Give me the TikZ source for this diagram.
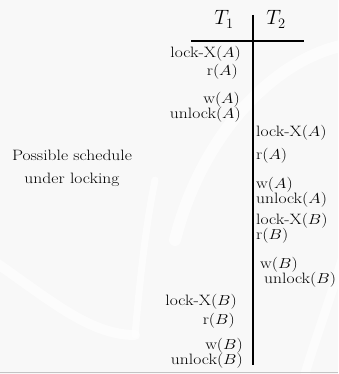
\documentclass[tikz,border=0pt]{standalone}
\usepackage{tikz}
\definecolor{paper}{HTML}{F8F8F8}
\definecolor{rule}{HTML}{C4C4C4}
\newcommand{\wide}[1]{\scalebox{1.17}[1]{#1}}
\tikzset{
  op/.style={inner sep=0pt, font=\fontsize{15}{18}\selectfont},
  tlabel/.style={inner sep=0pt, anchor=base, font=\fontsize{20}{22}\selectfont},
  axis/.style={line width=2pt},
  swoosh/.style={white, line width=10pt, line cap=round, opacity=0.6}
}
\begin{document}
\begin{tikzpicture}[x=1pt, y=-1pt]
  \useasboundingbox (0,0) rectangle (338,374);
  % paper with soft white swooshes
  \fill[paper] (0,0) rectangle (338,374);
  \draw[swoosh] (-5,262) .. controls (50,300) and (90,335) .. (135,335);
  \draw[swoosh, line width=7pt] (135,335) .. controls (140,280) and (145,230) .. (155,180);
  \draw[swoosh, line width=12pt] (345,45) .. controls (270,60) and (200,140) .. (175,240);
  \draw[swoosh, line width=9pt] (345,250) .. controls (330,300) and (315,340) .. (305,374);
  % bottom rule
  \draw[rule, line width=1pt] (0,372.5) -- (338,372.5);

  % column heads and time axis
  \node[tlabel] (t1) at (224,25) {$T_1$};
  \node[tlabel] (t2) at (276,25) {$T_2$};
  \coordinate (vtop) at (253,15);
  \coordinate (vbot) at (253,365);
  \coordinate (hl) at (191,41);
  \coordinate (hr) at (304,41);
  \draw[axis] (vtop) -- (vbot);
  \draw[axis] (hl) -- (hr);

  % T1 operations
  \node[op, anchor=east] (a1) at (241,54) {\wide{lock-X($A$)}};
  \node[op, anchor=east] (a2) at (238,72) {\wide{r($A$)}};
  \node[op, anchor=east] (a3) at (240,99.5) {\wide{w($A$)}};
  \node[op, anchor=east] (a4) at (241,114.5) {\wide{unlock($A$)}};

  % T2 operations
  \node[op, anchor=west] (b1) at (256,133) {\wide{lock-X($A$)}};
  \node[op, anchor=west] (b2) at (256,156) {\wide{r($A$)}};
  \node[op, anchor=west] (b3) at (256,185) {\wide{w($A$)}};
  \node[op, anchor=west] (b4) at (256,200) {\wide{unlock($A$)}};
  \node[op, anchor=west] (b5) at (256,221) {\wide{lock-X($B$)}};
  \node[op, anchor=west] (b6) at (256,236) {\wide{r($B$)}};
  \node[op, anchor=west] (b7) at (260,264.5) {\wide{w($B$)}};
  \node[op, anchor=west] (b8) at (264,280) {\wide{unlock($B$)}};

  % T1 operations on B
  \node[op, anchor=east] (c1) at (237,302) {\wide{lock-X($B$)}};
  \node[op, anchor=east] (c2) at (235,321) {\wide{r($B$)}};
  \node[op, anchor=east] (c3) at (243,346) {\wide{w($B$)}};
  \node[op, anchor=east] (c4) at (243,361) {\wide{unlock($B$)}};

  % caption
  \node[op, align=center, font=\fontsize{15}{23}\selectfont] (cap) at (72,168.5)
    {\wide{Possible schedule}\\\wide{under locking}};
\end{tikzpicture}
\end{document}
